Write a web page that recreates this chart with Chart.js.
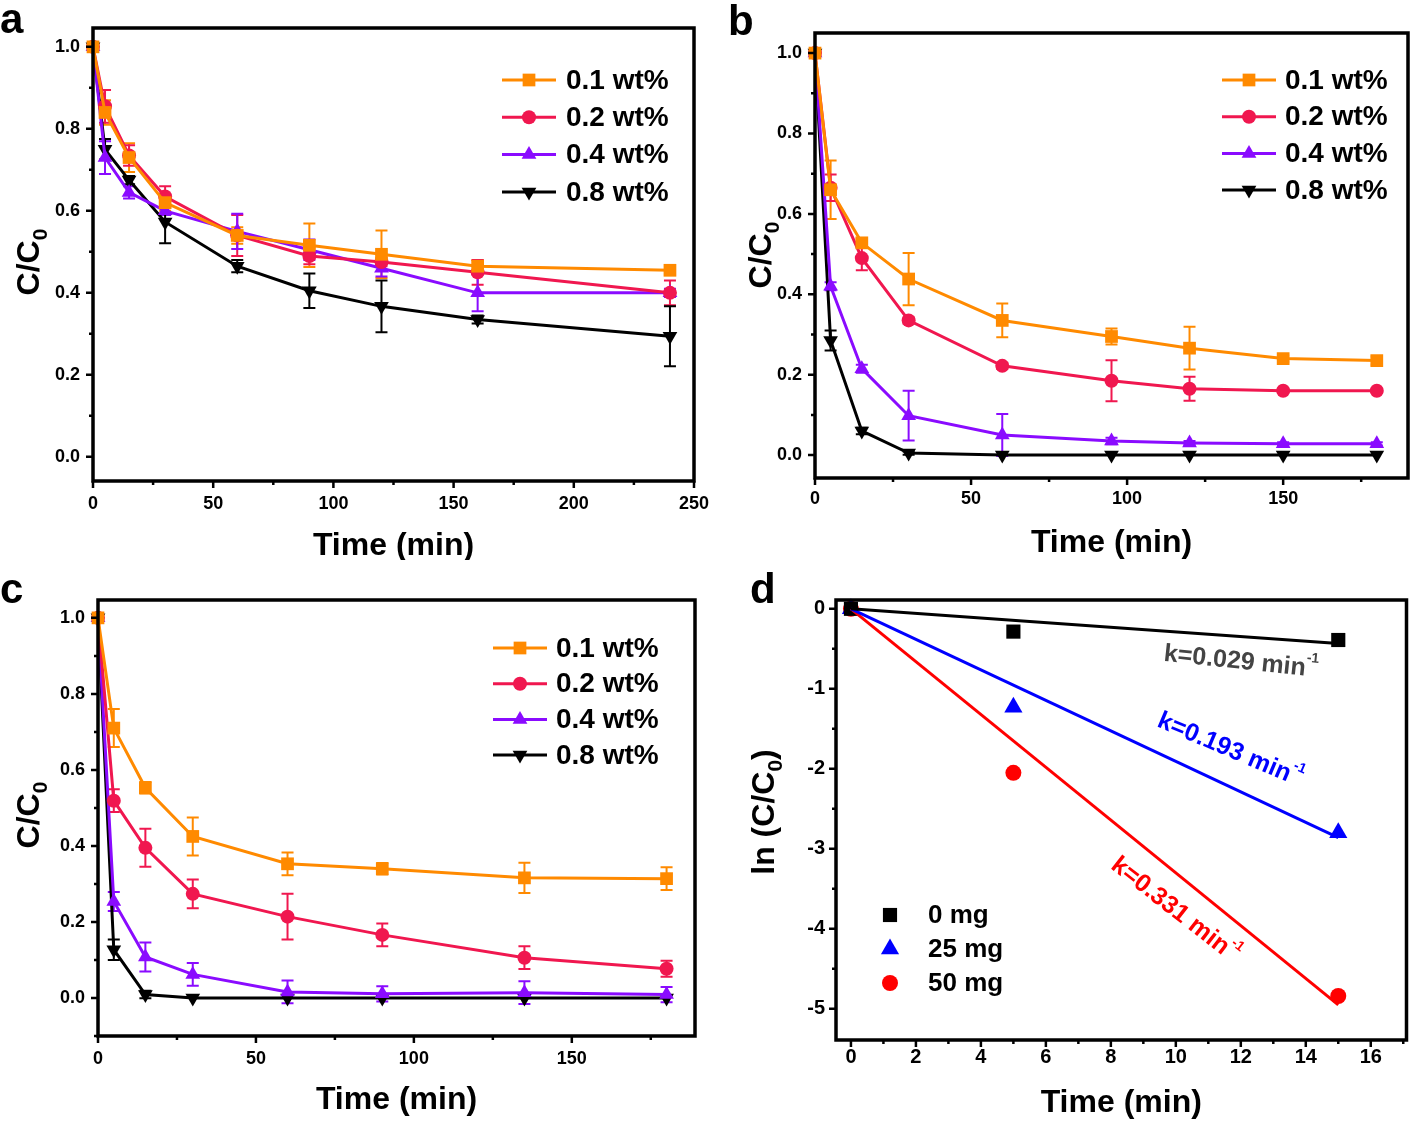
<!DOCTYPE html>
<html>
<head>
<meta charset="utf-8">
<script src="https://cdn.jsdelivr.net/npm/chart.js@4.4.0/dist/chart.umd.min.js"></script>
<style>
  body { margin: 0; background: #fff; width: 1417px; height: 1121px; position: relative; overflow: hidden; }
  canvas { position: absolute; }
</style>
</head>
<body>
<canvas id="pa" width="710" height="560" style="left:0;top:0"></canvas>
<canvas id="pb" width="697" height="560" style="left:720px;top:0"></canvas>
<canvas id="pc" width="710" height="561" style="left:0;top:560px"></canvas>
<canvas id="pd" width="697" height="561" style="left:720px;top:560px"></canvas>
<script>
// ---- data ----
const seriesLabels = ["0.1 wt%", "0.2 wt%", "0.4 wt%", "0.8 wt%"];

// panel a
const timeA = [0, 5, 15, 30, 60, 90, 120, 160, 240];
const a01 = [1.0, 0.84, 0.73, 0.62, 0.54, 0.516, 0.494, 0.465, 0.455];
const a01Err = [0, 0.03, 0.035, 0.02, 0.02, 0.053, 0.058, 0.015, 0.01];
const a02 = [1.0, 0.855, 0.735, 0.635, 0.54, 0.49, 0.475, 0.45, 0.40];
const a02Err = [0, 0.04, 0.025, 0.025, 0.05, 0.02, 0.01, 0.03, 0.03];
const a04 = [1.0, 0.73, 0.645, 0.60, 0.55, 0.505, 0.46, 0.40, 0.40];
const a04Err = [0, 0.04, 0.015, 0.01, 0.043, 0.025, 0.02, 0.045, 0.01];
const a08 = [1.0, 0.75, 0.675, 0.573, 0.465, 0.405, 0.367, 0.335, 0.294];
const a08Err = [0, 0.025, 0.01, 0.052, 0.015, 0.042, 0.063, 0.01, 0.073];

// panel b
const timeB = [0, 5, 15, 30, 60, 95, 120, 150, 180];
const b01 = [1.0, 0.66, 0.528, 0.438, 0.335, 0.295, 0.266, 0.24, 0.235];
const b01Err = [0, 0.073, 0.01, 0.065, 0.042, 0.02, 0.053, 0.008, 0.01];
const b02 = [1.0, 0.665, 0.49, 0.335, 0.222, 0.185, 0.165, 0.16, 0.16];
const b02Err = [0, 0.033, 0.03, 0.008, 0.008, 0.051, 0.03, 0.005, 0.005];
const b04 = [1.0, 0.42, 0.215, 0.098, 0.05, 0.035, 0.03, 0.028, 0.028];
const b04Err = [0, 0.01, 0.01, 0.062, 0.052, 0.008, 0.005, 0.004, 0.004];
const b08 = [1.0, 0.285, 0.06, 0.005, 0, 0, 0, 0, 0];
const b08Err = [0, 0.025, 0.008, 0.004, 0, 0, 0, 0, 0];

// panel c
const timeC = [0, 5, 15, 30, 60, 90, 135, 180];
const c01 = [1.0, 0.71, 0.553, 0.425, 0.353, 0.34, 0.316, 0.314];
const c01Err = [0, 0.05, 0.015, 0.05, 0.03, 0.015, 0.04, 0.03];
const c02 = [1.0, 0.519, 0.395, 0.274, 0.214, 0.166, 0.106, 0.077];
const c02Err = [0, 0.03, 0.05, 0.038, 0.06, 0.03, 0.03, 0.021];
const c04 = [1.0, 0.254, 0.108, 0.062, 0.016, 0.011, 0.014, 0.009];
const c04Err = [0, 0.025, 0.038, 0.03, 0.03, 0.02, 0.03, 0.02];
const c08 = [1.0, 0.127, 0.009, 0, 0, 0, 0, 0];
const c08Err = [0, 0.027, 0.01, 0, 0, 0, 0, 0];

// panel d
const doseLabels = ["0 mg", "25 mg", "50 mg"];
const timeD = [0, 5, 15];
const d0 = [0, -0.285, -0.39];
const d25 = [0, -1.23, -2.80];
const d50 = [0, -2.05, -4.84];
const fitTime = [0, 15];
const fit0 = [0, -0.435];
const fit25 = [0, -2.86];
const fit50 = [0, -4.95];
const rateLabels = ["k=0.029 min", "k=0.193 min", "k=0.331 min"];

// tick labels
const ticksA = [0, 50, 100, 150, 200, 250];
const ticksBC = [0, 50, 100, 150];
const ticksD = [0, 2, 4, 6, 8, 10, 12, 14, 16];
const ticksRatio = [0, 0.2, 0.4, 0.6, 0.8, 1.0];
const ticksLn = [0, -1, -2, -3, -4, -5];

// ---- drawing ----
const FONT = '"Liberation Sans", Arial, sans-serif';
const ORANGE = "#FF8A00", CRIMSON = "#F0174F", PURPLE = "#8A0BFF", BLACK = "#000000";
const seriesColors = [ORANGE, CRIMSON, PURPLE, BLACK];
const seriesStyles = [
  { pointStyle: "rect", pointRadius: 9, pointRotation: 0 },
  { pointStyle: "circle", pointRadius: 7, pointRotation: 0 },
  { pointStyle: "triangle", pointRadius: 8.5, pointRotation: 0 },
  { pointStyle: "triangle", pointRadius: 8.5, pointRotation: 180 },
];

function pts(xs, ys) {
  return xs.map((x, i) => ({ x: x, y: ys[i] }));
}

function drawMarker(ctx, st, x, y, color) {
  ctx.save();
  ctx.fillStyle = color;
  ctx.beginPath();
  const r = st.pointRadius;
  if (st.pointStyle === "rect") {
    const s = r * Math.SQRT1_2;
    ctx.rect(x - s, y - s, 2 * s, 2 * s);
  } else if (st.pointStyle === "circle") {
    ctx.arc(x, y, r, 0, Math.PI * 2);
  } else {
    const sgn = st.pointRotation === 180 ? -1 : 1;
    ctx.moveTo(x, y - sgn * r);
    ctx.lineTo(x + r * 0.866, y + sgn * r * 0.5);
    ctx.lineTo(x - r * 0.866, y + sgn * r * 0.5);
    ctx.closePath();
  }
  ctx.fill();
  ctx.restore();
}

// text made of parts (for subscripts and superscripts), centred at x,y
function drawRich(ctx, parts, x, y, angle, color) {
  ctx.save();
  ctx.translate(x, y);
  ctx.rotate(angle);
  ctx.fillStyle = color;
  ctx.textBaseline = "middle";
  ctx.textAlign = "left";
  let total = 0;
  parts.forEach((p) => {
    ctx.font = "bold " + p.size + "px " + FONT;
    p.w = ctx.measureText(p.t).width;
    total += p.w;
  });
  let cx = -total / 2;
  parts.forEach((p) => {
    ctx.font = "bold " + p.size + "px " + FONT;
    ctx.fillText(p.t, cx, p.dy || 0);
    cx += p.w;
  });
  ctx.restore();
}

function makeDecor(p) {
  return {
    id: "decor",
    beforeDatasetsDraw(chart) {
      const ctx = chart.ctx, sx = chart.scales.x, sy = chart.scales.y;
      chart.data.datasets.forEach((ds) => {
        if (!ds.errors) return;
        ctx.save();
        ctx.strokeStyle = ds.borderColor;
        ctx.lineWidth = 2;
        ds.data.forEach((pt, i) => {
          const e = ds.errors[i];
          if (!e) return;
          const x = sx.getPixelForValue(pt.x);
          const y1 = sy.getPixelForValue(pt.y + e);
          const y2 = sy.getPixelForValue(pt.y - e);
          ctx.beginPath();
          ctx.moveTo(x, y1); ctx.lineTo(x, y2);
          ctx.moveTo(x - 6, y1); ctx.lineTo(x + 6, y1);
          ctx.moveTo(x - 6, y2); ctx.lineTo(x + 6, y2);
          ctx.stroke();
        });
        ctx.restore();
      });
    },
    afterDraw(chart) {
      const ctx = chart.ctx, a = chart.chartArea;
      const sx = chart.scales.x, sy = chart.scales.y;
      ctx.save();
      // frame
      ctx.strokeStyle = "#000";
      ctx.lineWidth = 3.5;
      ctx.strokeRect(a.left, a.top, a.right - a.left, a.bottom - a.top);
      // outward ticks, major and minor
      ctx.lineWidth = 2.5;
      ctx.beginPath();
      const xt = p.xTicks, yt = p.yTicks;
      const xStep = xt[1] - xt[0];
      for (let v = xt[0] - xStep; v <= p.xMax + 1e-9; v += xStep / 2) {
        if (v < p.xMin - 1e-9) continue;
        const major = xt.some((t) => Math.abs(t - v) < 1e-9);
        const x = sx.getPixelForValue(v);
        ctx.moveTo(x, a.bottom);
        ctx.lineTo(x, a.bottom + (major ? 7 : 4));
      }
      const yLo = Math.min(...yt), yHi = Math.max(...yt), ys = Math.abs(yt[1] - yt[0]);
      for (let v = yLo - ys; v <= yHi + ys + 1e-9; v += ys / 2) {
        if (v < p.yMin - 1e-9 || v > p.yMax + 1e-9) continue;
        const major = yt.some((t) => Math.abs(t - v) < 1e-9);
        const y = sy.getPixelForValue(v);
        ctx.moveTo(a.left, y);
        ctx.lineTo(a.left - (major ? 7 : 4), y);
      }
      ctx.stroke();

      // axis titles
      drawRich(ctx, [{ t: "Time (min)", size: 32 }], (a.left + a.right) / 2, p.xTitleY, 0, "#000");
      drawRich(ctx, p.yTitle, p.yTitleX, p.yTitleY, -Math.PI / 2, "#000");

      // panel letter
      ctx.fillStyle = "#000";
      ctx.font = "bold 42px " + FONT;
      ctx.textAlign = "left";
      ctx.textBaseline = "alphabetic";
      ctx.fillText(p.letter, p.letterX, p.letterY);

      // legend
      const lg = p.legend;
      let k = 0;
      chart.data.datasets.forEach((ds) => {
        if (ds.legendHidden) return;
        const y = lg.y0 + k * lg.dy;
        k++;
        if (lg.len) {
          ctx.strokeStyle = ds.borderColor;
          ctx.lineWidth = 3;
          ctx.beginPath();
          ctx.moveTo(lg.x, y);
          ctx.lineTo(lg.x + lg.len, y);
          ctx.stroke();
        }
        drawMarker(ctx, ds, lg.x + (lg.len ? lg.len / 2 : 0), y, ds.backgroundColor);
        ctx.fillStyle = "#000";
        ctx.font = "bold " + lg.size + "px " + FONT;
        ctx.textBaseline = "middle";
        ctx.fillText(ds.label, lg.tx, y + 1);
      });

      // rate constant notes (panel d)
      (p.notes || []).forEach((n) => {
        drawRich(ctx, [{ t: n.t, size: 25 }, { t: "-1", size: 14, dy: -11 }], n.x, n.y, n.angle * Math.PI / 180, n.color);
      });
      ctx.restore();
    },
  };
}

function makeChart(id, p, datasets) {
  const tickFont = { family: FONT, size: p.tickSize || 18, weight: "bold" };
  return new Chart(document.getElementById(id), {
    type: "line",
    data: { datasets: datasets },
    options: {
      responsive: false,
      animation: false,
      devicePixelRatio: 1,
      layout: { padding: { top: p.padTop, right: p.padRight, left: 0, bottom: 0 } },
      plugins: { legend: { display: false }, tooltip: { enabled: false } },
      scales: {
        x: {
          type: "linear",
          min: p.xMin,
          max: p.xMax,
          afterBuildTicks: (s) => { s.ticks = p.xTicks.map((v) => ({ value: v })); },
          afterFit: (s) => { s.height = p.xh; s.paddingLeft = 0; s.paddingRight = 0; },
          grid: { display: false, drawTicks: false },
          border: { display: false },
          ticks: { color: "#000", font: tickFont, padding: p.xPad, maxRotation: 0, autoSkip: false, callback: (v) => String(v) },
        },
        y: {
          type: "linear",
          min: p.yMin,
          max: p.yMax,
          afterBuildTicks: (s) => { s.ticks = p.yTicks.map((v) => ({ value: v })); },
          afterFit: (s) => { s.width = p.yw; s.paddingTop = 0; s.paddingBottom = 0; },
          grid: { display: false, drawTicks: false },
          border: { display: false },
          ticks: { color: "#000", font: tickFont, padding: p.yPad, autoSkip: false, callback: p.yFmt },
        },
      },
    },
    plugins: [makeDecor(p)],
  });
}

function ratioSets(time, vals, errs) {
  return vals.map((v, i) => Object.assign({
    label: seriesLabels[i],
    data: pts(time, v),
    errors: errs[i],
    borderColor: seriesColors[i],
    backgroundColor: seriesColors[i],
    pointBackgroundColor: seriesColors[i],
    pointBorderWidth: 0,
    borderWidth: 3,
    tension: 0,
    clip: false,
  }, seriesStyles[i]));
}

const ratioTitle = [{ t: "C/C", size: 32 }, { t: "0", size: 21, dy: 11 }];
const fmt1 = (v) => v.toFixed(1);

makeChart("pa", {
  xMin: 0, xMax: 250, xTicks: ticksA, yMin: -0.059, yMax: 1.046, yTicks: ticksRatio, yFmt: fmt1,
  padTop: 28, padRight: 16, yw: 93, xh: 79, xPad: 12, yPad: 13,
  xTitleY: 546, yTitle: ratioTitle, yTitleX: 30, yTitleY: 262,
  letter: "a", letterX: 0, letterY: 33,
  legend: { x: 502, len: 54, tx: 566, y0: 80, dy: 37.3, size: 28 },
}, ratioSets(timeA, [a01, a02, a04, a08], [a01Err, a02Err, a04Err, a08Err]));

makeChart("pb", {
  xMin: 0, xMax: 190, xTicks: ticksBC, yMin: -0.057, yMax: 1.05, yTicks: ticksRatio, yFmt: fmt1,
  padTop: 33, padRight: 3, yw: 95, xh: 82, xPad: 10, yPad: 13,
  xTitleY: 543, yTitle: ratioTitle, yTitleX: 42, yTitleY: 255,
  letter: "b", letterX: 8, letterY: 35,
  legend: { x: 502, len: 54, tx: 565, y0: 80, dy: 36.7, size: 28 },
}, ratioSets(timeB, [b01, b02, b04, b08], [b01Err, b02Err, b04Err, b08Err]));

makeChart("pc", {
  xMin: 0, xMax: 189, xTicks: ticksBC, yMin: -0.1, yMax: 1.047, yTicks: ticksRatio, yFmt: fmt1,
  padTop: 40, padRight: 15, yw: 98, xh: 85, xPad: 12, yPad: 13,
  xTitleY: 540, yTitle: ratioTitle, yTitleX: 30, yTitleY: 255,
  letter: "c", letterX: 0, letterY: 43,
  legend: { x: 493, len: 54, tx: 556, y0: 88, dy: 35.7, size: 28 },
}, ratioSets(timeC, [c01, c02, c04, c08], [c01Err, c02Err, c04Err, c08Err]));

const doseColors = ["#000000", "#0000FF", "#FF0000"];
const doseStyles = [
  { pointStyle: "rect", pointRadius: 10, pointRotation: 0 },
  { pointStyle: "triangle", pointRadius: 10.5, pointRotation: 0 },
  { pointStyle: "circle", pointRadius: 8, pointRotation: 0 },
];
const dSets = [];
[fit0, fit25, fit50].forEach((f, i) => {
  dSets.push({ label: "fit", data: pts(fitTime, f), borderColor: doseColors[i], borderWidth: 3, pointRadius: 0, legendHidden: true, clip: false });
});
[d0, d25, d50].forEach((v, i) => {
  dSets.push(Object.assign({
    label: doseLabels[i], data: pts(timeD, v), showLine: false,
    borderColor: doseColors[i], backgroundColor: doseColors[i], pointBackgroundColor: doseColors[i], pointBorderWidth: 0, clip: false,
  }, doseStyles[i]));
});

makeChart("pd", {
  xMin: -0.46, xMax: 17.1, xTicks: ticksD, yMin: -5.39, yMax: 0.11, yTicks: ticksLn, yFmt: (v) => String(v),
  tickSize: 20,
  padTop: 40, padRight: 3, yw: 116, xh: 81, xPad: 5, yPad: 11,
  xTitleY: 543, yTitle: [{ t: "ln (C/C", size: 32 }, { t: "0", size: 21, dy: 11 }, { t: ")", size: 32 }], yTitleX: 45, yTitleY: 252,
  letter: "d", letterX: 30, letterY: 43,
  legend: { x: 170, len: 0, tx: 208, y0: 355, dy: 34, size: 26 },
  notes: [
    { t: rateLabels[0], x: 521, y: 102, angle: 6, color: "#444444" },
    { t: rateLabels[1], x: 510, y: 190, angle: 23, color: "#0000FF" },
    { t: rateLabels[2], x: 455, y: 350, angle: 38, color: "#FF0000" },
  ],
}, dSets);
</script>
</body>
</html>
